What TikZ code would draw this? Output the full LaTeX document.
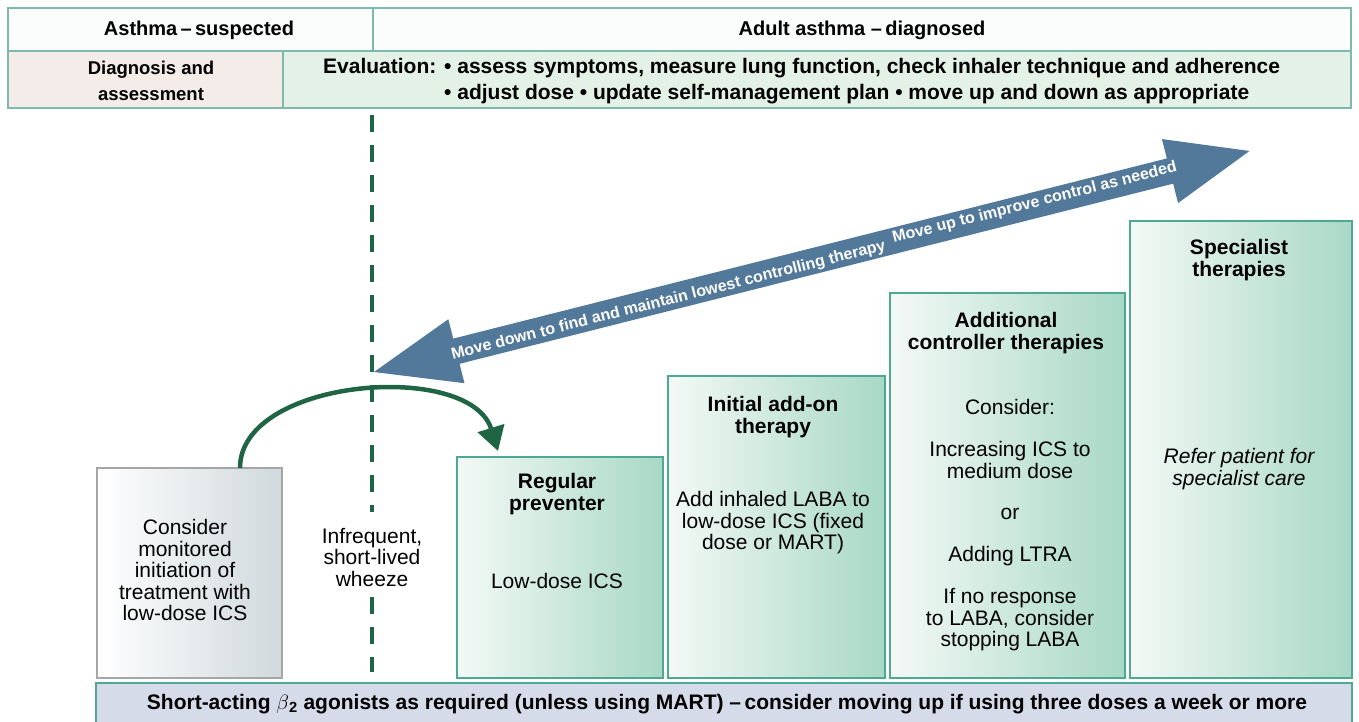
\documentclass[tikz,border=0pt]{standalone}
\usepackage{fontspec}
\setmainfont{Liberation Sans}
\usetikzlibrary{arrows.meta}
\definecolor{boxedge}{HTML}{4EA993}
\definecolor{boxl}{HTML}{F3F9F6}
\definecolor{boxr}{HTML}{A8D8C6}
\definecolor{grayedge}{HTML}{A6A6A6}
\definecolor{grayr}{HTML}{D0D9DC}
\definecolor{hdredge}{HTML}{7DBAAB}
\definecolor{hdrone}{HTML}{FBFDFC}
\definecolor{hdrpink}{HTML}{F3ECE9}
\definecolor{hdrgreen}{HTML}{E3F1E7}
\definecolor{darkgreen}{HTML}{1F6443}
\definecolor{arrowblue}{HTML}{52789A}
\definecolor{barfill}{HTML}{D6DBEA}
\tikzset{
  cell/.style={draw=hdredge, line width=1.5pt, anchor=north west, inner sep=0pt, outer sep=0pt},
  stepbox/.style={draw=boxedge, line width=1.2pt, left color=boxl, right color=boxr, anchor=north west, inner sep=0pt, outer sep=0pt},
  graybox/.style={draw=grayedge, line width=1.2pt, left color=white, right color=grayr, anchor=north west, inner sep=0pt, outer sep=0pt},
  txt/.style={font=\fontsize{21}{21.5}\selectfont, align=center, inner sep=0pt},
  htxt/.style={font=\fontsize{21}{21.5}\selectfont\bfseries, align=center, inner sep=0pt},
  hdr/.style={font=\fontsize{20}{26}\selectfont\bfseries, align=center, inner sep=0pt},
  arrtxt/.style={font=\fontsize{16}{18}\selectfont\bfseries, text=white, inner sep=0pt, rotate=14.17},
}
\begin{document}
\begin{tikzpicture}[x=1pt,y=-1pt]
\useasboundingbox (0,0) rectangle (1359,721);
% header
\node[cell, fill=hdrone, minimum width=365pt, minimum height=43pt] (h1) at (8,8) {};
\node[cell, fill=hdrone, minimum width=978pt, minimum height=43pt] (h2) at (373,8) {};
\node[cell, fill=hdrpink, minimum width=275pt, minimum height=57pt] (h3) at (8,51) {};
\node[cell, fill=hdrgreen, minimum width=1068pt, minimum height=57pt] (h4) at (283,51) {};
\node[hdr] (t1) at (199,30) {Asthma\,–\,suspected};
\node[hdr] (t2) at (862,30) {Adult asthma –\,diagnosed};
\node[hdr, font=\fontsize{18.5}{26}\selectfont\bfseries] (t3) at (151,81) {Diagnosis and\\assessment};
\node[hdr, anchor=west, font=\fontsize{21}{26}\selectfont\bfseries] (t4) at (323,81) {\begin{tabular}{@{}l@{ }l@{}}Evaluation: & • assess symptoms, measure lung function, check inhaler technique and adherence\\ & • adjust dose • update self-management plan • move up and down as appropriate\end{tabular}};
% dashed line
\draw[darkgreen, line width=3.5pt, dash pattern=on 17pt off 13pt] (372,115) -- (372,512);
\draw[darkgreen, line width=3.5pt, dash pattern=on 17pt off 13pt] (372,597) -- (372,672);
\node[txt] (wheeze) at (372,557) {Infrequent,\\short-lived\\wheeze};
% boxes
\node[graybox, minimum width=185pt, minimum height=210pt] (b0) at (97,468) {};
\node[txt] (b0t) at (185,570) {Consider\\monitored\\initiation of\\treatment with\\low-dose ICS};
\node[stepbox, minimum width=206pt, minimum height=221pt] (b1) at (457,457) {};
\node[htxt] (b1h) at (557,494) {Regular\\preventer};
\node[txt] (b1t) at (557,581) {Low-dose ICS};
\node[stepbox, minimum width=217pt, minimum height=302pt] (b2) at (668,376) {};
\node[htxt] (b2h) at (773,417) {Initial add-on\\therapy};
\node[txt] (b2t) at (773,523) {Add inhaled LABA to\\low-dose ICS (fixed\\dose or MART)};
\node[stepbox, minimum width=235pt, minimum height=385pt] (b3) at (890,293) {};
\node[htxt] (b3h) at (1006,333) {Additional\\controller therapies};
\node[txt] (b3a) at (1010,407) {Consider:};
\node[txt] (b3b) at (1010,460) {Increasing ICS to\\medium dose};
\node[txt] (b3c) at (1010,514) {or};
\node[txt] (b3d) at (1010,556) {Adding LTRA};
\node[txt] (b3e) at (1010,620) {If no response\\to LABA, consider\\stopping LABA};
\node[stepbox, minimum width=222pt, minimum height=457pt] (b4) at (1130,221) {};
\node[htxt] (b4h) at (1239,260) {Specialist\\therapies};
\node[txt, font=\fontsize{21}{21.5}\selectfont\itshape] (b4t) at (1239,469) {Refer patient for\\specialist care};
% bottom bar
\node[cell, draw=boxedge, fill=barfill, minimum width=1256pt, minimum height=40pt] (bar) at (96,683) {};
\node[hdr, font=\fontsize{21}{26}\selectfont\bfseries] (bart) at (727,704) {Short-acting $\beta$\textsubscript{2} agonists as required (unless using MART) –\,consider moving up if using three doses a week or more};
% green curved arrow
\draw[darkgreen, line width=4.5pt, -{Triangle[length=24pt,width=27pt]}] (240,468) .. controls (240,378) and (470,360) .. (498,451);
% big double arrow
\begin{scope}[shift={(374,372)}, rotate=14.17]
\fill[arrowblue] (0,0) -- (85,-33) -- (85,-13) -- (821,-13) -- (821,-33) -- (903,0) -- (821,33) -- (821,13) -- (85,13) -- (85,33) -- cycle;
\node[arrtxt] (a1) at (303,3) {Move down to find and maintain lowest controlling therapy};
\node[arrtxt] (a2) at (682,-2) {Move up to improve control as needed};
\end{scope}
\end{tikzpicture}
\end{document}
